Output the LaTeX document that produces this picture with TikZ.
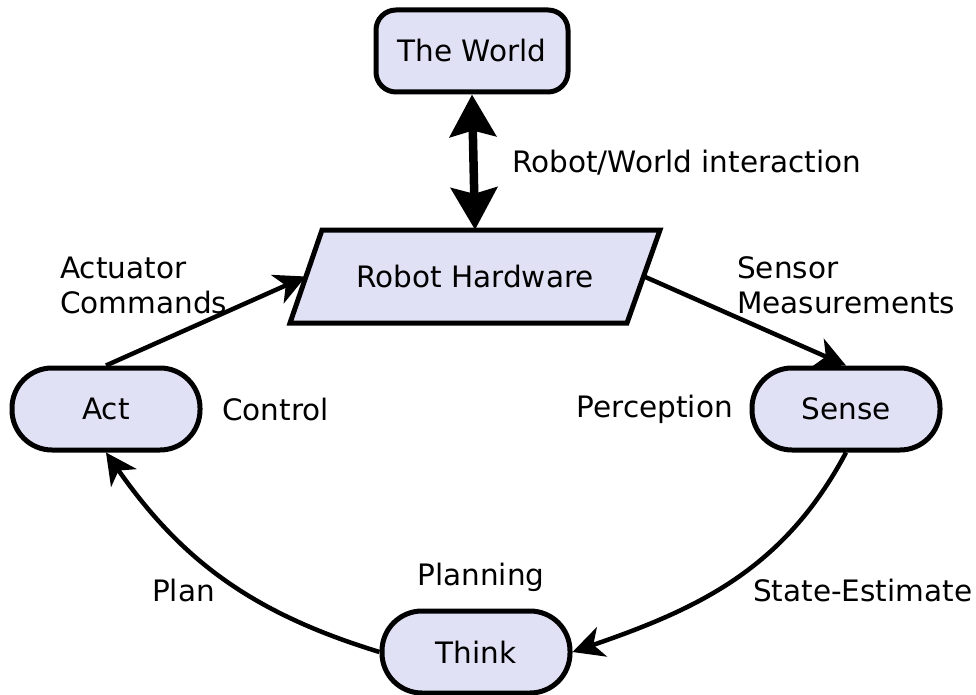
\documentclass[tikz,border=0pt]{standalone}
\usepackage{fontspec}
\setmainfont{DejaVu Sans}
\usetikzlibrary{arrows.meta}
\definecolor{boxfill}{RGB}{225,225,245}
\begin{document}
\begin{tikzpicture}[x=1pt,y=-1pt,
  every node/.style={font=\fontsize{29.5}{35}\selectfont, inner sep=0pt},
  box/.style={draw=black, line width=5pt, fill=boxfill, line join=round},
  stadium/.style={box, minimum width=188pt, minimum height=82pt, rounded corners=40pt},
  link/.style={line width=4.5pt, -{Stealth[length=31pt,width=31pt,inset=9pt]}},
  lbl/.style={align=left}]
\useasboundingbox (0,0) rectangle (976,695);
\node[box, rounded corners=20pt, minimum width=192pt, minimum height=82pt] (world) at (472,51) {The World};
\draw[box, line join=miter] (322,230) -- (660,230) -- (627,323) -- (290,323) -- cycle;
\node[minimum width=338pt, minimum height=93pt] (rh) at (475,276.5) {Robot Hardware};
\node[stadium] (act) at (106,409) {Act};
\node[stadium] (sense) at (846,409) {Sense};
\node[stadium] (think) at (476,652) {Think};

\draw[line width=8.5pt, {Stealth[length=42pt,width=46pt,inset=6pt]}-{Stealth[length=42pt,width=46pt,inset=6pt]}] (world.south) -- (rh.north);
\draw[link] (act.north) -- (rh.west);
\draw[link] (rh.east) -- (sense.north);
\draw[link] (sense.south) to[out=-118,in=19] (think.east);
\draw[link] (think.west) to[out=163,in=-55] (act.south);

\node[anchor=west] (lworld) at (512,163) {Robot/World interaction};
\node[lbl, anchor=west] (lact) at (60,285) {Actuator\\Commands};
\node[lbl, anchor=west] (lsens) at (737,285) {Sensor\\Measurements};
\node[anchor=west] (lctrl) at (222,409) {Control};
\node[anchor=east] (lperc) at (733,409) {Perception};
\node[anchor=west] (lplan) at (152,590) {Plan};
\node (lplanning) at (481,577) {Planning};
\node[anchor=west] (lstate) at (753,590) {State-Estimate};
\end{tikzpicture}
\end{document}
